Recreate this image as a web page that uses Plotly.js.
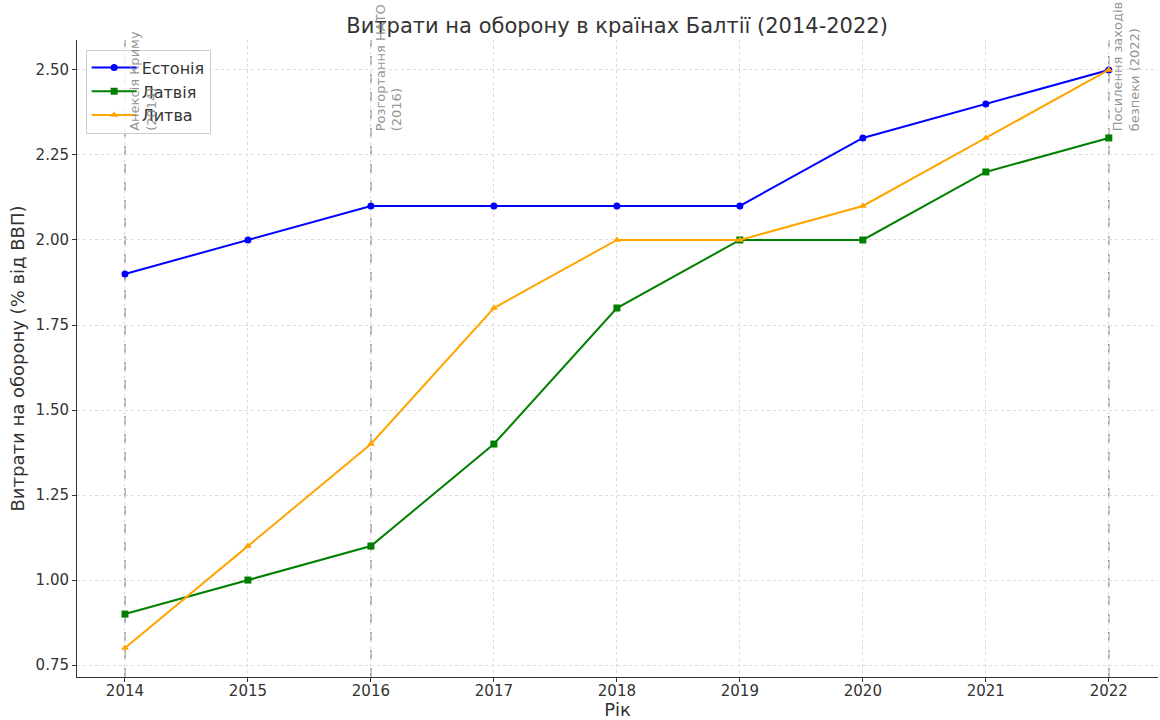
<!DOCTYPE html>
<html>
<head>
<meta charset="utf-8">
<script src="https://cdn.plot.ly/plotly-3.0.1.min.js"></script>
<style>html,body{margin:0;padding:0;background:#fff;}#chart{width:1160px;height:720px;}</style>
</head>
<body>
<div id="chart"></div>
<script>
var years = [2014, 2015, 2016, 2017, 2018, 2019, 2020, 2021, 2022];
var estonia = [1.9, 2.0, 2.1, 2.1, 2.1, 2.1, 2.3, 2.4, 2.5];
var latvia = [0.9, 1.0, 1.1, 1.4, 1.8, 2.0, 2.0, 2.2, 2.3];
var lithuania = [0.8, 1.1, 1.4, 1.8, 2.0, 2.0, 2.1, 2.3, 2.5];
var seriesNames = ['Естонія', 'Латвія', 'Литва'];
var eventYears = [2014, 2016, 2022];
var eventLabels = ['Анексія Криму<br>(2014)', 'Розгортання НАТО<br>(2016)', 'Посилення заходів<br>безпеки (2022)'];

var font = 'DejaVu Sans, sans-serif';
function tr(y, name, color, sym) {
  return {x: years, y: y, name: name, type: 'scatter', mode: 'lines+markers',
    line: {color: color, width: 2}, marker: {color: color, symbol: sym, size: 7}, cliponaxis: false};
}
var data = [
  tr(estonia, seriesNames[0], '#0000ff', 'circle'),
  tr(latvia, seriesNames[1], '#008000', 'square'),
  tr(lithuania, seriesNames[2], '#ffa500', 'triangle-up')
];

var shapes = eventYears.map(function(yr){
  return {type: 'line', xref: 'x', yref: 'paper', x0: yr, x1: yr, y0: 0, y1: 1,
    line: {color: 'rgba(128,128,128,0.8)', width: 1.5, dash: 'dash'}, layer: 'below'};
});
var annotations = eventYears.map(function(yr, i){
  return {x: yr, y: 2.315, xref: 'x', yref: 'y', text: eventLabels[i], textangle: -90,
    showarrow: false, xanchor: 'left', yanchor: 'bottom', xshift: 0,
    font: {family: font, size: 13, color: 'rgba(128,128,128,0.85)'}, align: 'left'};
});

var layout = {
  width: 1160, height: 720,
  margin: {l: 77, r: 2, t: 40, b: 43},
  paper_bgcolor: '#fff', plot_bgcolor: '#fff',
  title: {text: 'Витрати на оборону в країнах Балтії (2014-2022)', x: 0.532, xanchor: 'center', y: 0.965, yanchor: 'middle',
    font: {family: font, size: 21, color: '#333'}},
  font: {family: font, color: '#333'},
  xaxis: {range: [2013.61, 2022.4], tickvals: years, ticktext: years.map(String),
    showgrid: true, gridcolor: '#dcdcdc', griddash: 'dot', gridwidth: 1,
    showline: true, linecolor: '#333', linewidth: 1, ticks: 'outside', ticklen: 4, tickcolor: '#333',
    ticklabelstandoff: -4,
    zeroline: false, tickfont: {size: 15, color: '#333'},
    title: {text: 'Рік', font: {size: 18, color: '#333'}, standoff: 8}},
  yaxis: {range: [0.715, 2.588], tickvals: [0.75, 1.0, 1.25, 1.5, 1.75, 2.0, 2.25, 2.5], tickformat: '.2f',
    showgrid: true, gridcolor: '#dcdcdc', griddash: 'dot', gridwidth: 1,
    showline: true, linecolor: '#333', linewidth: 1, ticks: 'outside', ticklen: 4, tickcolor: '#333',
    zeroline: false, tickfont: {size: 15, color: '#333'},
    title: {text: 'Витрати на оборону (% від ВВП)', font: {size: 18, color: '#333'}, standoff: 6}},
  legend: {x: 0.008, y: 0.985, xanchor: 'left', yanchor: 'top', bgcolor: 'rgba(255,255,255,0.85)',
    bordercolor: '#ccc', borderwidth: 1, font: {size: 16, color: '#333'}, tracegroupgap: 0,
    itemwidth: 45},
  shapes: shapes,
  annotations: annotations,
  showlegend: true
};
Plotly.newPlot('chart', data, layout, {displayModeBar: false, staticPlot: true});
</script>
</body>
</html>
